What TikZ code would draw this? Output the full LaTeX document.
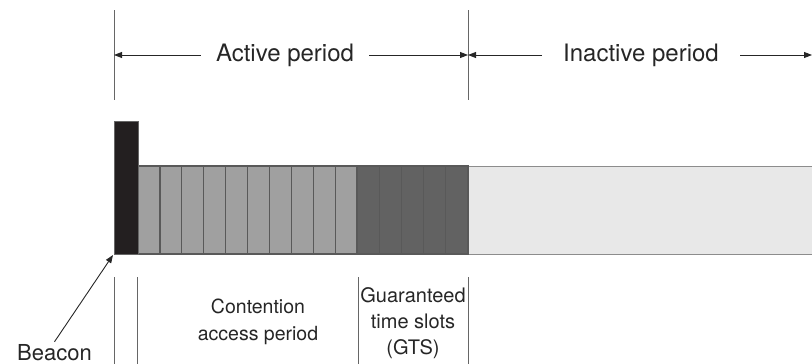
\documentclass[tikz,border=0pt]{standalone}
\usepackage{fontspec}
\setmainfont{TeX Gyre Heros}
\usetikzlibrary{arrows.meta}
\definecolor{beaconc}{HTML}{231F20}
\definecolor{capc}{HTML}{A0A0A0}
\definecolor{gtsc}{HTML}{626262}
\definecolor{idlec}{HTML}{E8E8E8}
\definecolor{inkc}{HTML}{262626}
\begin{document}
\begin{tikzpicture}[x=1pt,y=-1pt,
    tick/.style={draw=black!60, line width=0.9pt},
    dim/.style={draw=inkc, line width=0.9pt, -{Triangle[length=8pt,width=6pt]}},
    slot/.style={draw=black!65, line width=1.2pt},
    lbl/.style={text=inkc, inner sep=2pt}]
    \useasboundingbox (0,0) rectangle (812,364);

    % superframe slots
    \fill[idlec] (468,166) rectangle (812,254);
    \draw[black!45, line width=1pt] (468,166) -- (812,166) (468,254) -- (812,254);
    \foreach \i in {0,...,9}
        \filldraw[fill=capc, slot] ({138+21.9*\i},166) rectangle ({138+21.9*(\i+1)},254);
    \foreach \i in {0,...,4}
        \filldraw[fill=gtsc, slot] ({357+22.2*\i},166) rectangle ({357+22.2*(\i+1)},254);
    \filldraw[fill=beaconc, draw=black!60, line width=0.8pt] (114,121) rectangle (138,254);

    % period boundaries
    \draw[tick] (114,10) -- (114,100);
    \draw[tick] (468,10) -- (468,100);
    \coordinate (actL) at (114,55);
    \coordinate (actR) at (468,55);
    \coordinate (inactR) at (812,55);
    \node[lbl, inner xsep=15pt, font=\fontsize{24}{26}\selectfont] (act) at (285,55) {Active period};
    \node[lbl, inner xsep=21pt, font=\fontsize{24}{26}\selectfont] (inact) at (641,55) {Inactive period};
    \draw[dim] (act.west) -- (actL);
    \draw[dim] (act.east) -- (actR);
    \draw[dim] (inact.west) -- (actR);
    \draw[dim] (inact.east) -- (inactR);

    % slot groups
    \foreach \x in {114,137,358,468}
        \draw[tick] (\x,277) -- (\x,364);
    \node[lbl, align=center, font=\fontsize{19.5}{27}\selectfont] (cap) at (258,322) {Contention\\access period};
    \node[lbl, align=center, font=\fontsize{20}{26}\selectfont] (gts) at (413,323) {Guaranteed\\time slots\\(GTS)};

    % beacon
    \coordinate (bcnTip) at (113,255);
    \node[lbl, anchor=base west, font=\fontsize{22}{26}\selectfont] (bcn) at (15,360) {Beacon};
    \draw[dim] (bcn.north) -- (bcnTip);
\end{tikzpicture}
\end{document}
